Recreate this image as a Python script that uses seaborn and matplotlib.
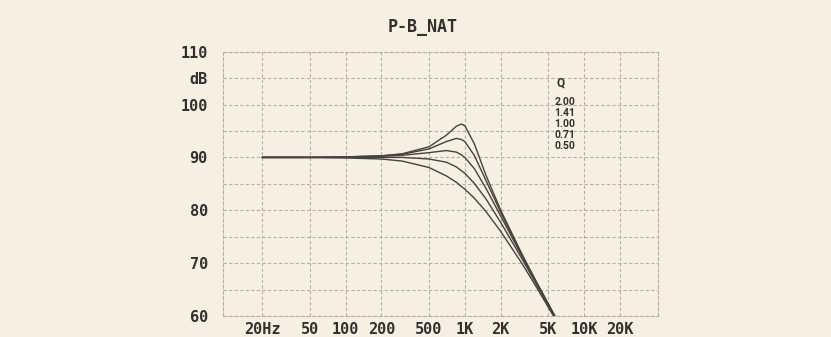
import pandas as pd
import matplotlib.pyplot as plt
import seaborn as sns

# Frequências (Hz)
freq = [20, 50, 100, 200, 300, 500, 700, 850, 935, 1000, 1200, 1500, 2000, 3000, 4000, 5500, 5800]

# Resposta (dB) de cada curva, lida a olho no gráfico
q_labels = ["2.00", "1.41", "1.00", "0.71", "0.50"]
db_q200 = [90.0, 90.0, 90.1, 90.3, 90.7, 92.0, 94.2, 95.9, 96.3, 96.0, 92.6, 86.7, 80.0, 71.8, 66.4, 60.6, 59.7]
db_q141 = [90.0, 90.0, 90.1, 90.3, 90.6, 91.6, 93.0, 93.6, 93.4, 93.0, 90.4, 85.7, 79.6, 71.6, 66.3, 60.6, 59.7]
db_q100 = [90.0, 90.0, 90.0, 90.2, 90.4, 90.9, 91.3, 91.0, 90.5, 90.0, 87.9, 84.2, 78.9, 71.4, 66.2, 60.5, 59.6]
db_q071 = [90.0, 90.0, 90.0, 90.0, 90.0, 89.7, 89.1, 88.2, 87.5, 87.0, 85.1, 82.2, 77.7, 70.9, 65.9, 60.4, 59.5]
db_q050 = [90.0, 90.0, 89.9, 89.7, 89.3, 88.1, 86.5, 85.3, 84.5, 84.0, 82.3, 79.8, 76.0, 70.0, 65.4, 60.1, 59.3]

# Eixos
x_ticks = [20, 50, 100, 200, 500, 1000, 2000, 5000, 10000, 20000]
x_labels = ["20Hz", "50", "100", "200", "500", "1K", "2K", "5K", "10K", "20K"]
y_ticks = [60, 65, 70, 75, 80, 85, 90, 95, 100, 105, 110]
y_labels = ["60", "", "70", "", "80", "", "90", "", "100", "dB", "110"]

series = [db_q200, db_q141, db_q100, db_q071, db_q050]
df = pd.concat([pd.DataFrame({"freq": freq, "dB": s, "Q": q}) for q, s in zip(q_labels, series)])

paper = "#f7efe1"
grid_c = "#bcaea6"
ink = "#333130"

sns.set_theme(style="white")
plt.rcParams["font.family"] = ["DejaVu Sans Mono", "DejaVu Sans"]

fig = plt.figure(figsize=(8.31, 3.37), dpi=100, facecolor=paper)
ax = fig.add_axes([0.2684, 0.0623, 0.5235, 0.7843])
ax.set_facecolor(paper)

sns.lineplot(data=df, x="freq", y="dB", hue="Q", palette=["#45433f"] * 5,
             legend=False, linewidth=1.0, ax=ax)

ax.set_xscale("log")
ax.set_xlim(9.4, 41700)
ax.set_ylim(60, 110)
ax.set_xticks(x_ticks)
ax.set_xticklabels(x_labels)
ax.minorticks_off()
ax.set_yticks(y_ticks)
ax.set_yticklabels(y_labels)
ax.tick_params(axis="both", length=0, labelsize=11, labelcolor=ink)
ax.tick_params(axis="y", pad=11)
ax.tick_params(axis="x", pad=4)
for lab in ax.get_xticklabels() + ax.get_yticklabels():
    lab.set_fontweight("bold")

ax.grid(True, color=grid_c, linestyle=(0, (3, 2)), linewidth=0.8)
for sp in ax.spines.values():
    sp.set_color(grid_c)
    sp.set_linestyle((0, (3, 2)))
    sp.set_linewidth(0.8)
ax.set_xlabel("")
ax.set_ylabel("")

# Título deslocado como no original
fig.text(0.508, 0.92, "P-B_NAT", ha="center", va="center", fontsize=12,
         fontweight="bold", color=ink)

# Legenda de Q em texto
narrow = ["Roboto", "DejaVu Sans"]
ax.text(0.767, 0.88, "Q", transform=ax.transAxes, fontsize=8.5, fontweight="bold",
        color=ink, family=narrow, ha="left", va="center")
for i, q in enumerate(q_labels):
    ax.text(0.762, 0.81 - i * 0.042, q, transform=ax.transAxes, fontsize=7.5,
            fontweight="bold", color=ink, family=narrow, ha="left", va="center")

fig.savefig("out.png", dpi=100, facecolor=paper)
